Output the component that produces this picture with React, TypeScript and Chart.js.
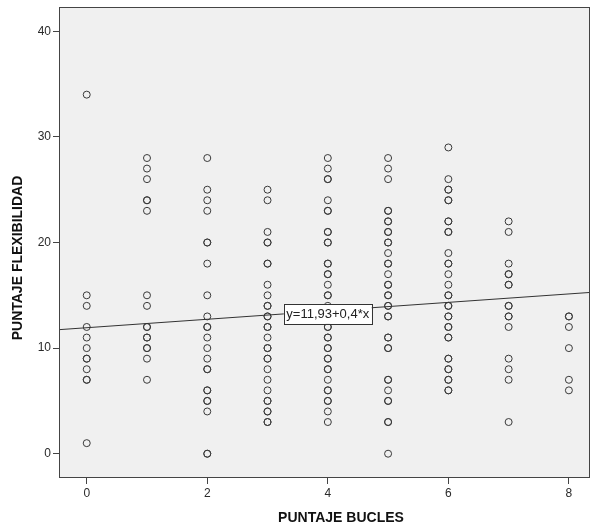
import React, { useEffect, useRef } from "react";
import { Chart, registerables } from "chart.js";

Chart.register(...registerables);

const xCategories = [0, 1, 2, 3, 4, 5, 6, 7, 8];
const col0 = [34, 15, 14, 12, 11, 10, 9, 9, 8, 7, 7, 1];
const col1 = [28, 27, 26, 24, 24, 23, 15, 14, 12, 12, 11, 11, 10, 10, 9, 7];
const col2 = [28, 25, 24, 23, 20, 20, 18, 15, 13, 12, 12, 11, 10, 9, 8, 8, 6, 6, 5, 5, 4, 0, 0];
const col3 = [25, 24, 21, 20, 20, 18, 18, 16, 15, 14, 14, 13, 13, 12, 12, 11, 10, 10, 9, 9, 8, 7, 6, 5, 5, 4, 4, 3, 3];
const col4 = [28, 27, 26, 26, 24, 23, 23, 21, 21, 20, 20, 18, 18, 17, 17, 16, 15, 15, 14, 13, 12, 12, 11, 11, 10, 10, 9, 9, 8, 8, 7, 6, 6, 5, 5, 4, 3];
const col5 = [28, 27, 26, 23, 23, 22, 22, 21, 21, 20, 20, 19, 18, 18, 17, 16, 16, 15, 15, 14, 14, 13, 13, 11, 11, 10, 10, 7, 7, 6, 5, 5, 3, 3, 0];
const col6 = [29, 26, 25, 25, 24, 24, 22, 22, 21, 21, 19, 18, 18, 17, 16, 15, 15, 14, 14, 13, 13, 12, 12, 11, 11, 9, 9, 8, 8, 7, 7, 6, 6];
const col7 = [22, 21, 18, 17, 17, 16, 16, 14, 14, 13, 13, 12, 9, 8, 7, 3];
const col8 = [13, 13, 12, 10, 7, 6];
const columns = [col0, col1, col2, col3, col4, col5, col6, col7, col8];

const intercept = 11.93;
const slope = 0.4;
const fitLabel = "y=11,93+0,4*x";
const labelAtX = 3.27;

const xMin = -0.46;
const xMax = 8.35;
const yMin = -2.3;
const yMax = 42.3;
const yTicks = [0, 10, 20, 30, 40];
const xTicks = [0, 2, 4, 6, 8];

const xTitle = "PUNTAJE BUCLES";
const yTitle = "PUNTAJE FLEXIBILIDAD";

export default function App() {
  const ref = useRef<HTMLCanvasElement>(null);
  useEffect(() => {
    const points: { x: number; y: number }[] = [];
    xCategories.forEach((cx, i) => columns[i].forEach((v) => points.push({ x: cx, y: v })));
    const linePts = [
      { x: xMin, y: intercept + slope * xMin },
      { x: xMax, y: intercept + slope * xMax },
    ];
    const framePlugin = {
      id: "frame",
      beforeDraw(chart: any) {
        const { ctx, chartArea: a } = chart;
        ctx.save();
        ctx.fillStyle = "#f0f0f0";
        ctx.fillRect(a.left, a.top, a.right - a.left, a.bottom - a.top);
        ctx.restore();
      },
      afterDraw(chart: any) {
        const { ctx, chartArea: a } = chart;
        ctx.save();
        ctx.strokeStyle = "#444";
        ctx.lineWidth = 1;
        ctx.strokeRect(a.left + 0.5, a.top + 0.5, a.right - a.left - 1, a.bottom - a.top - 1);
        const xs = chart.scales.x, ys = chart.scales.y;
        const px = xs.getPixelForValue(labelAtX);
        const py = ys.getPixelForValue(intercept + slope * labelAtX);
        ctx.font = "13px Arial, 'Liberation Sans', sans-serif";
        const w = ctx.measureText(fitLabel).width + 5;
        const h = 20;
        ctx.fillStyle = "#ffffff";
        ctx.fillRect(px, py - h / 2, w, h);
        ctx.strokeStyle = "#333";
        ctx.strokeRect(Math.round(px) + 0.5, Math.round(py - h / 2) + 0.5, Math.round(w), h);
        ctx.fillStyle = "#222";
        ctx.textBaseline = "middle";
        ctx.textAlign = "left";
        ctx.fillText(fitLabel, px + 2.5, py + 1);
        ctx.font = "bold 14px Arial, 'Liberation Sans', sans-serif";
        ctx.fillStyle = "#111";
        ctx.textAlign = "center";
        ctx.fillText(xTitle, 341, 518);
        ctx.translate(18, 258);
        ctx.rotate(-Math.PI / 2);
        ctx.fillText(yTitle, 0, 0);
        ctx.restore();
      },
    };
    const chart = new Chart(ref.current!, {
      type: "scatter",
      data: {
        datasets: [
          {
            type: "line",
            data: linePts,
            borderColor: "#333",
            borderWidth: 1,
            pointRadius: 0,
            fill: false,
          } as any,
          {
            data: points,
            pointStyle: "circle",
            pointRadius: 3.5,
            borderWidth: 1,
            borderColor: "#3a3a3a",
            backgroundColor: "rgba(0,0,0,0)",
          },
        ],
      },
      options: {
        animation: false,
        responsive: false,
        layout: { autoPadding: false, padding: { top: 7, right: 1, left: 0, bottom: 0 } },
        plugins: { legend: { display: false }, tooltip: { enabled: false } },
        scales: {
          x: {
            type: "linear",
            min: xMin,
            max: xMax,
            afterBuildTicks: (s: any) => { s.ticks = xTicks.map((v) => ({ value: v })); },
            afterFit: (s: any) => { s.height = 52; s.paddingLeft = 0; s.paddingRight = 0; },
            grid: { drawOnChartArea: false, drawTicks: true, tickLength: 6, color: "#444" },
            border: { display: false },
            ticks: { color: "#2a2a2a", font: { size: 12, family: "Arial, 'Liberation Sans', sans-serif" }, padding: 2 },
          },
          y: {
            type: "linear",
            min: yMin,
            max: yMax,
            afterBuildTicks: (s: any) => { s.ticks = yTicks.map((v) => ({ value: v })); },
            afterFit: (s: any) => { s.width = 59; s.paddingTop = 0; s.paddingBottom = 0; },
            grid: { drawOnChartArea: false, drawTicks: true, tickLength: 6, color: "#444" },
            border: { display: false },
            ticks: { color: "#2a2a2a", font: { size: 12, family: "Arial, 'Liberation Sans', sans-serif" }, padding: 2 },
          },
        },
      },
      plugins: [framePlugin],
    });
    return () => chart.destroy();
  }, []);
  return (
    <div style={{ position: "absolute", left: 0, top: 0, width: 591, height: 530, background: "#fff" }}>
      <canvas ref={ref} width={591} height={530} style={{ width: 591, height: 530 }} />
    </div>
  );
}
